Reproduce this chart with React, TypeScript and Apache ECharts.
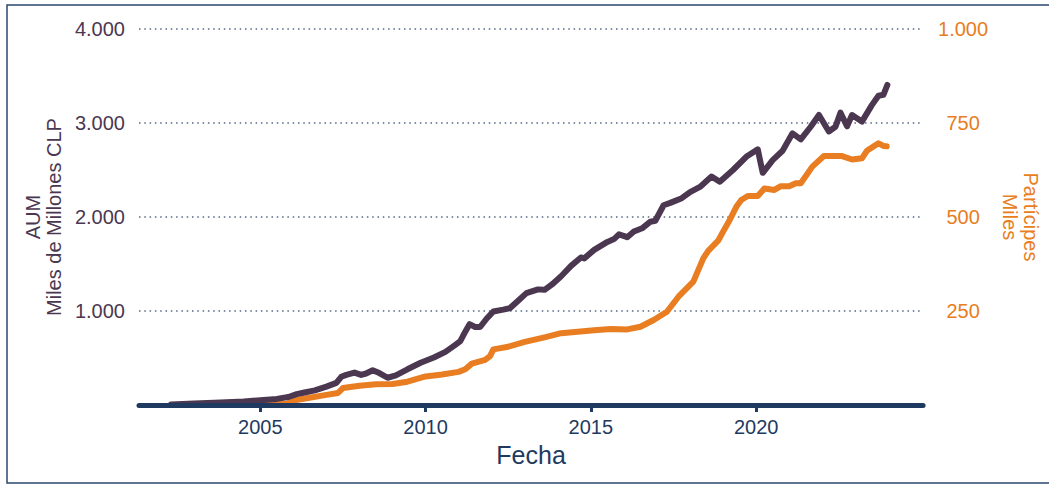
import React, { useEffect, useRef } from "react";
import * as echarts from "echarts";

// AUM (Miles de Millones CLP)
const aumYears = [
  2002.3, 2003.0, 2003.8, 2004.5, 2005.0, 2005.5, 2005.85, 2006.1, 2006.3, 2006.65,
  2007.0, 2007.3, 2007.45, 2007.6, 2007.85, 2008.05, 2008.2, 2008.4, 2008.6, 2008.85,
  2009.1, 2009.45, 2009.85, 2010.25, 2010.6, 2010.9, 2011.05, 2011.2, 2011.33, 2011.5,
  2011.65, 2011.85, 2012.05, 2012.35, 2012.55, 2012.8, 2013.05, 2013.4, 2013.6, 2013.85,
  2014.1, 2014.4, 2014.7, 2014.8, 2015.1, 2015.5, 2015.7, 2015.85, 2016.1, 2016.3,
  2016.55, 2016.8, 2016.95, 2017.2, 2017.4, 2017.75, 2018.0, 2018.3, 2018.65, 2018.9,
  2019.3, 2019.7, 2020.05, 2020.12, 2020.2, 2020.5, 2020.8, 2021.1, 2021.35, 2021.65,
  2021.9, 2022.2, 2022.4, 2022.55, 2022.75, 2022.9, 2023.2, 2023.5, 2023.7, 2023.85,
  2023.97,
];
const aumValues = [
  5, 15, 27, 38, 50, 65, 85, 115, 130, 155,
  195, 235, 300, 320, 345, 320, 335, 370, 340, 290,
  315, 380, 450, 505, 565, 640, 680, 780, 860, 830,
  830, 920, 995, 1015, 1030, 1110, 1190, 1230, 1225, 1290,
  1370, 1480, 1570, 1560, 1650, 1735, 1765, 1815, 1785, 1845,
  1880, 1950, 1960, 2125, 2150, 2200, 2265, 2320, 2430, 2375,
  2500, 2640, 2720, 2600, 2470, 2605, 2705, 2890, 2825, 2960,
  3085, 2910, 2960, 3110, 2965, 3085, 3015, 3190, 3290, 3300,
  3405,
];

// Partícipes (Miles)
const partYears = [
  2002.3, 2005.8, 2006.0, 2006.4, 2007.0, 2007.35, 2007.5, 2008.0, 2008.5, 2009.0,
  2009.45, 2010.0, 2010.5, 2011.0, 2011.2, 2011.4, 2011.8, 2011.95, 2012.05, 2012.5,
  2013.0, 2013.6, 2014.1, 2014.6, 2015.1, 2015.6, 2016.1, 2016.5, 2016.9, 2017.3,
  2017.65, 2018.1, 2018.4, 2018.55, 2018.85, 2019.0, 2019.2, 2019.4, 2019.55, 2019.75,
  2020.05, 2020.25, 2020.55, 2020.75, 2021.0, 2021.2, 2021.35, 2021.7, 2022.05, 2022.6,
  2022.9, 2023.2, 2023.35, 2023.7, 2023.85, 2023.95,
];
const partValues = [
  0, 3, 12, 18, 27, 32, 45, 51, 55, 56,
  62, 76, 81, 88, 95, 110, 120, 130, 148, 155,
  168, 180, 191, 195, 199, 202, 201, 208, 226, 248,
  288, 328, 390, 410, 437, 461, 492, 527, 545, 556,
  556, 576, 572, 582, 582, 590, 590, 634, 662, 662,
  653, 656, 676, 696, 689, 688,
];

const xTickYears = [2005, 2010, 2015, 2020];
const leftTicks = [0, 1000, 2000, 3000, 4000];
const rightTicks = [0, 250, 500, 750, 1000];

const PURPLE = "#4b3750";
const ORANGE = "#e87d22";
const NAVY = "#1f3a60";
const FONT = "'Liberation Sans', Arial, sans-serif";

function fmtThousands(v: number): string {
  if (v === 0) return "";
  if (v < 1000) return String(v);
  const k = Math.floor(v / 1000);
  const r = v % 1000;
  return `${k}.${String(r).padStart(3, "0")}`;
}

export default function App() {
  const ref = useRef<HTMLDivElement>(null);

  useEffect(() => {
    if (!ref.current) return;
    const chart = echarts.init(ref.current, undefined, {
      renderer: "svg",
      width: 1049,
      height: 485,
    });
    chart.setOption({
      animation: false,
      backgroundColor: "#ffffff",
      textStyle: { fontFamily: FONT },
      grid: { left: 139, right: 117, top: 29, bottom: 80, containLabel: false },
      graphic: [
        {
          type: "rect",
          shape: { x: 7, y: 5, width: 1080, height: 478 },
          style: { fill: "none", stroke: "#2b4670", lineWidth: 1.5 },
          silent: true,
        },
      ],
      xAxis: {
        type: "value",
        min: 2001.33,
        max: 2025.05,
        z: 5,
        name: "Fecha",
        nameLocation: "middle",
        nameGap: 37,
        nameTextStyle: { color: NAVY, fontSize: 25, fontFamily: FONT },
        axisLine: { show: true, onZero: false, lineStyle: { color: NAVY, width: 5 } },
        axisTick: {
          show: true,
          customValues: xTickYears,
          length: 7,
          lineStyle: { color: NAVY, width: 3 },
        },
        axisLabel: {
          customValues: xTickYears,
          formatter: (v: number) => String(Math.round(v)),
          color: NAVY,
          fontSize: 20,
          fontFamily: FONT,
          margin: 12,
        },
        splitLine: { show: false },
      },
      yAxis: [
        {
          type: "value",
          min: leftTicks[0],
          max: leftTicks[leftTicks.length - 1],
          interval: 1000,
          position: "left",
          name: "AUM\nMiles de Millones CLP",
          nameLocation: "middle",
          nameGap: 75,
          nameRotate: 90,
          nameTextStyle: { color: PURPLE, fontSize: 20, lineHeight: 21, fontFamily: FONT, align: "center" },
          axisLine: { show: false },
          axisTick: { show: false },
          axisLabel: {
            color: PURPLE,
            fontSize: 20,
            fontFamily: FONT,
            margin: 14,
            formatter: (v: number) => fmtThousands(v),
          },
          splitLine: {
            show: true,
            lineStyle: { color: "#546887", width: 1.5, type: [1.5, 3.8] },
          },
        },
        {
          type: "value",
          min: rightTicks[0],
          max: rightTicks[rightTicks.length - 1],
          interval: 250,
          position: "right",
          name: "Partícipes\nMiles",
          nameLocation: "middle",
          nameGap: 70,
          nameRotate: -90,
          nameTextStyle: { color: ORANGE, fontSize: 20, lineHeight: 21, fontFamily: FONT, align: "center" },
          axisLine: { show: false },
          axisTick: { show: false },
          axisLabel: {
            color: ORANGE,
            fontSize: 20,
            fontFamily: FONT,
            margin: 40,
            align: "center",
            formatter: (v: number) => fmtThousands(v),
          },
          splitLine: { show: false },
        },
      ],
      series: [
        {
          name: "Partícipes",
          type: "line",
          yAxisIndex: 1,
          showSymbol: false,
          symbol: "none",
          data: partYears.map((y, i) => [y, partValues[i]]),
          lineStyle: { color: ORANGE, width: 6, cap: "round", join: "round" },
          z: 2,
        },
        {
          name: "AUM",
          type: "line",
          yAxisIndex: 0,
          showSymbol: false,
          symbol: "none",
          data: aumYears.map((y, i) => [y, aumValues[i]]),
          lineStyle: { color: PURPLE, width: 6, cap: "round", join: "round" },
          z: 3,
        },
      ],
    });
    return () => chart.dispose();
  }, []);

  return (
    <div
      ref={ref}
      style={{ position: "absolute", left: 0, top: 0, width: 1049, height: 485 }}
    />
  );
}
